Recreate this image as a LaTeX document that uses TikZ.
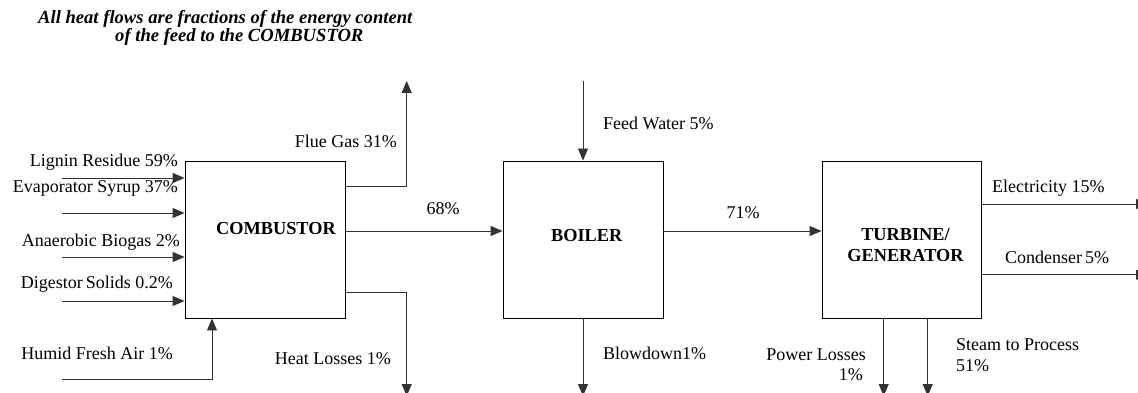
\documentclass[tikz,border=0pt]{standalone}
\usepackage{fontspec}
\setmainfont{Liberation Serif}
\usetikzlibrary{arrows.meta}
\begin{document}
\begin{tikzpicture}[x=1pt,y=-1pt,
  lbl/.style={font=\fontsize{18}{20}\selectfont, inner sep=0pt},
  ttl/.style={font=\fontsize{18.6}{20}\selectfont\bfseries\itshape, inner sep=0pt},
  box/.style={draw=black, line width=0.9pt, inner sep=0pt},
  blbl/.style={font=\fontsize{18.3}{21}\selectfont\bfseries, inner sep=0pt, align=center},
  arr/.style={draw=black!80, line width=0.9pt, -{Triangle[length=12pt,width=10pt]}},
  ln/.style={draw=black!80, line width=0.9pt}]
\useasboundingbox (0,0) rectangle (1138,393);
\fill[white] (0,0) rectangle (1138,393);
% title
\node[ttl, anchor=base west] (t1) at (38,24) {All heat flows are fractions of the energy content};
\node[ttl, anchor=base west] (t2) at (115,41.5) {of the feed to the COMBUSTOR};
% boxes
\node[box, minimum width=160pt, minimum height=157pt] (comb) at (265,239.5) {};
\node[box, minimum width=160pt, minimum height=157pt] (boil) at (583,239.5) {};
\node[box, minimum width=159pt, minimum height=157pt] (turb) at (901.5,239.5) {};
\node[blbl, anchor=base] (combt) at (276,234.3) {COMBUSTOR};
\node[blbl, anchor=base] (boilt) at (586.7,241) {BOILER};
\node[blbl, anchor=base] (turbt1) at (905.5,240) {TURBINE/};
\node[blbl, anchor=base] (turbt2) at (905.5,261.7) {GENERATOR};
% free ends and levels
\coordinate (in1) at (62,178);
\coordinate (in2) at (62,213);
\coordinate (in3) at (62,257);
\coordinate (in4) at (62,301);
\coordinate (air) at (62,379);
\coordinate (airx) at (212,379);
\coordinate (fgy) at (0,186);
\coordinate (fgtop) at (406.7,81);
\coordinate (hly) at (0,292);
\coordinate (hlbot) at (406.7,396);
\coordinate (mainy) at (0,231);
\coordinate (fwtop) at (583,81);
\coordinate (bdbot) at (583,396);
\coordinate (ely) at (1148,204);
\coordinate (cdy) at (1148,274.7);
\coordinate (plbot) at (883.7,396);
\coordinate (spbot) at (927.7,396);
% inputs
\draw[arr] (in1) -- (in1 -| comb.west);
\draw[arr] (in2) -- (in2 -| comb.west);
\draw[arr] (in3) -- (in3 -| comb.west);
\draw[arr] (in4) -- (in4 -| comb.west);
\draw[arr] (air) -- (airx) -- (airx |- comb.south);
% combustor outputs
\draw[arr] (comb.east |- fgy) -| (fgtop);
\draw[arr] (comb.east |- hly) -| (hlbot);
\draw[arr] (comb.east |- mainy) -- (boil.west |- mainy);
% boiler
\draw[arr] (fwtop) -- (boil.north);
\draw[arr] (boil.south) -- (bdbot);
\draw[arr] (boil.east |- mainy) -- (turb.west |- mainy);
% turbine
\draw[arr] (turb.east |- ely) -- (ely);
\draw[arr] (turb.east |- cdy) -- (cdy);
\draw[arr] (plbot |- turb.south) -- (plbot);
\draw[arr] (spbot |- turb.south) -- (spbot);
% labels
\node[lbl, anchor=base east] (l1) at (178,166.7) {Lignin Residue 59\%};
\node[lbl, anchor=base east] (l2) at (178,193) {Evaporator Syrup 37\%};
\node[lbl, anchor=base east] (l3) at (180,246.7) {Anaerobic Biogas 2\%};
\node[lbl, anchor=base east] (l4) at (173,288) {Digestor\,Solids 0.2\%};
\node[lbl, anchor=base east] (l5) at (173,359) {Humid Fresh Air 1\%};
\node[lbl, anchor=base east] (lfg) at (397,148) {Flue Gas 31\%};
\node[lbl, anchor=base east] (lhl) at (391,364) {Heat Losses 1\%};
\node[lbl, anchor=base] (l68) at (443,214) {68\%};
\node[lbl, anchor=base] (l71) at (743,218) {71\%};
\node[lbl, anchor=base west] (lfw) at (603,130) {Feed Water 5\%};
\node[lbl, anchor=base west] (lbd) at (603,359.3) {Blowdown1\%};
\node[lbl, anchor=base west] (lel) at (992,193) {Electricity 15\%};
\node[lbl, anchor=base west] (lcd) at (1005,263) {Condenser\,5\%};
\node[lbl, anchor=base east] (lpl1) at (866,360) {Power Losses};
\node[lbl, anchor=base east] (lpl2) at (863,380.7) {1\%};
\node[lbl, anchor=base west] (lsp1) at (956,350.7) {Steam to Process};
\node[lbl, anchor=base west] (lsp2) at (956,371.7) {51\%};
\end{tikzpicture}
\end{document}
